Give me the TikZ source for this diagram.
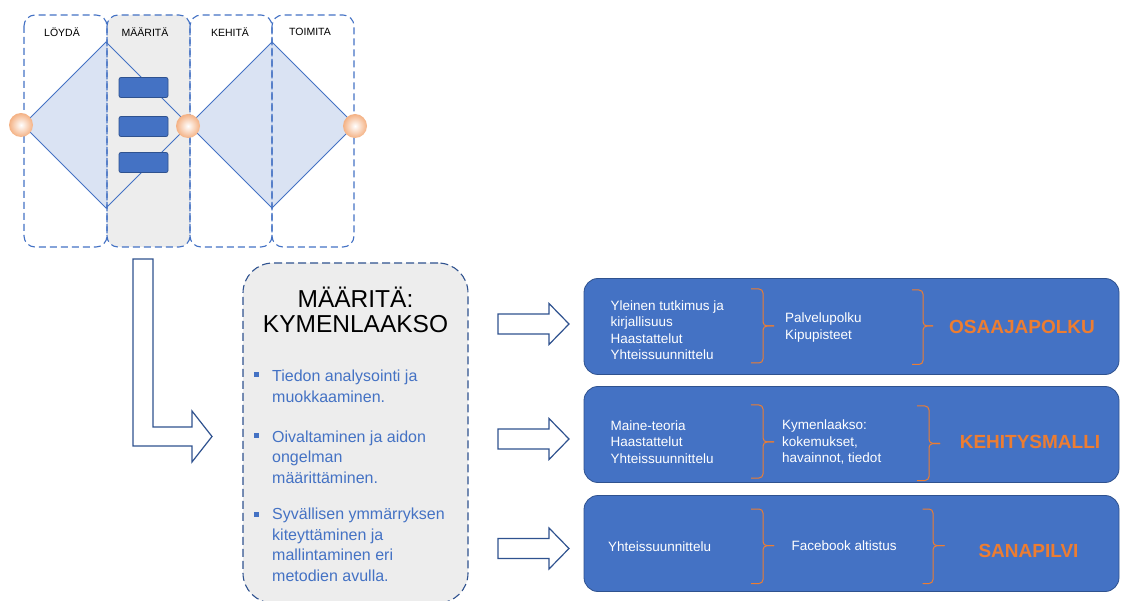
\documentclass[tikz,border=0pt]{standalone}
\usepackage{fontspec}
\setmainfont{Liberation Sans}
\usetikzlibrary{positioning,calc}
\definecolor{paneblue}{HTML}{4472C4}
\definecolor{edgeblue}{HTML}{2F528F}
\definecolor{lightpane}{HTML}{DAE3F3}
\definecolor{softgray}{HTML}{EDEDED}
\definecolor{accentorange}{HTML}{ED7D31}
\definecolor{glow}{HTML}{F4B183}

\newcommand{\fsz}[2]{\fontsize{#1}{#2}\selectfont}
% hollow block arrow pointing right, centred on a given y
\newcommand{\hollowright}[1]{%
  \draw[hollowarrow,shift={(0,#1)}] (498,-10) -- (549,-10) -- (549,-20.5) -- (569,0)
    -- (549,20.5) -- (549,10) -- (498,10) -- cycle;}
% orange brace: x start, x spine, x tip, y top, y bottom, y middle
\newcommand{\obrace}[6]{%
  \draw[rbrace] (#1,#4) -- (#2,#4) -- (#2,#6) -- (#3,#6);
  \draw[rbrace] (#1,#5) -- (#2,#5) -- (#2,#6) -- (#3,#6);}

\begin{document}
\begin{tikzpicture}[x=1pt,y=-1pt,
      phase/.style={draw=paneblue,line width=1.1pt,dash pattern=on 7pt off 4pt,rounded corners=11pt},
      stepbar/.style={draw=edgeblue,fill=paneblue,rounded corners=2pt,line width=0.8pt,minimum width=49pt,minimum height=20pt,inner sep=0pt},
      phaselabel/.style={font=\fsz{10.5}{12},inner sep=0pt},
      joint/.style={circle,minimum size=24pt,inner sep=0pt,inner color=white,outer color=glow},
      hollowarrow/.style={draw=edgeblue,fill=white,line width=1.2pt,line join=miter},
      sqbullet/.style={fill=paneblue,minimum size=5pt,inner sep=0pt},
      bulletitem/.style={anchor=west,align=left,font=\fsz{16}{20.5},text=paneblue,inner sep=0pt},
      resultbox/.style={draw=edgeblue,fill=paneblue,rounded corners=14pt,line width=0.8pt,minimum width=535pt,minimum height=96pt,inner sep=0pt},
      boxtext/.style={anchor=west,align=left,font=\fsz{13.5}{16.5},text=white,inner sep=0pt},
      outcome/.style={font=\bfseries\fsz{19}{22},text=accentorange,inner sep=0pt},
      rbrace/.style={draw=accentorange,line width=1pt,rounded corners=4pt}]
  \useasboundingbox (0,0) rectangle (1122,601);

  % double diamond
  \fill[lightpane] (23,125) -- (106,42) -- (189,125) -- (106,208) -- cycle;
  \fill[lightpane] (189,125) -- (272,42) -- (355,125) -- (272,208) -- cycle;
  \fill[softgray,rounded corners=11pt] (107,15) rectangle (190,247);
  \draw[paneblue,line width=0.9pt] (23,125) -- (106,42) -- (189,125) -- (106,208) -- cycle;
  \draw[paneblue,line width=0.9pt] (189,125) -- (272,42) -- (355,125) -- (272,208) -- cycle;
  \draw[phase] (24,15) rectangle (107,247);
  \draw[phase] (107,15) rectangle (190,247);
  \draw[phase] (190,15) rectangle (272,247);
  \draw[phase] (272,15) rectangle (354,247);
  \node[phaselabel] (loyda) at (62,32) {LÖYDÄ};
  \node[phaselabel] (maarita) at (145,32) {MÄÄRITÄ};
  \node[phaselabel] (kehita) at (230,32) {KEHITÄ};
  \node[phaselabel] (toimita) at (310,32) {TOIMITA};
  \node[stepbar] (bar1) at (143.5,87.5) {};
  \node[stepbar] (bar2) at (143.5,126.5) {};
  \node[stepbar] (bar3) at (143.5,162.5) {};
  \node[joint] (j1) at (21,125) {};
  \node[joint] (j2) at (188,126) {};
  \node[joint] (j3) at (355,126) {};

  % bent arrow down to the phase card
  \draw[hollowarrow] (133,259) -- (153,259) -- (153,427) -- (192,427) -- (192,411) -- (212,436.5)
    -- (192,462) -- (192,446) -- (133,446) -- cycle;

  % phase card
  \node[draw=edgeblue,fill=softgray,line width=1.1pt,dash pattern=on 8pt off 4pt,rounded corners=30pt,
        minimum width=225pt,minimum height=340pt,inner sep=0pt] (card) at (355.5,433) {};
  \node[font=\fsz{24.5}{25},align=center,inner sep=0pt] (cardtitle) at (355.5,309.5) {MÄÄRITÄ:\\KYMENLAAKSO};
  \node[bulletitem] (item1) at (272,386.5) {Tiedon analysointi ja\\muokkaaminen.};
  \node[bulletitem] (item2) at (272,457) {Oivaltaminen ja aidon\\ongelman\\määrittäminen.};
  \node[bulletitem] (item3) at (272,545) {Syvällisen ymmärryksen\\kiteyttäminen ja\\mallintaminen eri\\metodien avulla.};
  \node[sqbullet] (dot1) at (256,375) {};
  \node[sqbullet] (dot2) at (256,436) {};
  \node[sqbullet] (dot3) at (256,514) {};

  \hollowright{324}
  \hollowright{439}
  \hollowright{548.5}

  % result boxes
  \node[resultbox] (res1) at (851.5,326.5) {};
  \node[resultbox] (res2) at (851.5,434.5) {};
  \node[resultbox] (res3) at (851.5,543.5) {};

  \node[boxtext] (src1) at (610.5,330) {Yleinen tutkimus ja\\kirjallisuus\\Haastattelut\\Yhteissuunnittelu};
  \node[boxtext] (mid1) at (785,327.5) {Palvelupolku\\Kipupisteet};
  \node[outcome] (out1) at (1022,327) {OSAAJAPOLKU};
  \obrace{751}{763}{774}{289}{363}{326}
  \obrace{912}{923}{933}{290}{364.5}{326}

  \node[boxtext] (src2) at (610.5,442) {Maine-teoria\\Haastattelut\\Yhteissuunnittelu};
  \node[boxtext] (mid2) at (782,442) {Kymenlaakso:\\kokemukset,\\havainnot, tiedot};
  \node[outcome] (out2) at (1030,442) {KEHITYSMALLI};
  \obrace{751}{763}{774}{405}{478}{442}
  \obrace{917}{929}{940}{406}{480.5}{443.5}

  \node[boxtext] (src3) at (608,547) {Yhteissuunnittelu};
  \node[boxtext] (mid3) at (791.5,546) {Facebook altistus};
  \node[outcome] (out3) at (1028.5,551) {SANAPILVI};
  \obrace{751}{763}{774}{509}{583.5}{545.7}
  \obrace{922.7}{933}{944.6}{509}{583.5}{545.7}
\end{tikzpicture}
\end{document}
